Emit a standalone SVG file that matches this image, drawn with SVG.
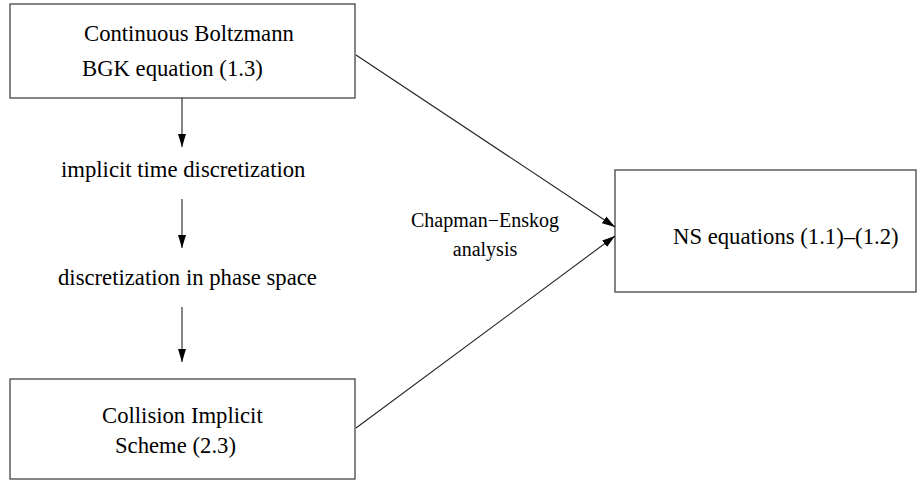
<svg xmlns="http://www.w3.org/2000/svg" width="921" height="481" viewBox="0 0 921 481">
<style>
.box{fill:#fff;stroke:#444;stroke-width:1.3}
text{font-family:'Liberation Serif',serif;fill:#000}
.t{font-size:22.7px}
.s{font-size:20px}
.c{fill:none;stroke:#222;stroke-width:1.1}
</style>
<defs>
<marker id="ah" markerUnits="userSpaceOnUse" markerWidth="14" markerHeight="10" refX="13" refY="4" orient="auto" viewBox="0 0 14 8">
<path d="M0,0 L13,4 L0,8 Z" fill="#000"/>
</marker>
</defs>
<rect width="921" height="481" fill="#fff"/>
<g id="n_boltzmann">
<rect class="box" x="10" y="4" width="345" height="94"/>
<text class="t" x="84" y="41">Continuous Boltzmann</text>
<text class="t" x="82" y="76">BGK equation (1.3)</text>
</g>
<g id="n_implicit_time">
<text class="t" x="61" y="177">implicit time discretization</text>
</g>
<g id="n_phase_space">
<text class="t" x="58" y="285">discretization in phase space</text>
</g>
<g id="n_collision">
<rect class="box" x="10" y="379" width="345" height="100"/>
<text class="t" x="102" y="423">Collision Implicit</text>
<text class="t" x="115" y="453">Scheme (2.3)</text>
</g>
<g id="n_ns">
<rect class="box" x="615" y="170" width="301" height="122"/>
<text class="t" x="673" y="244">NS equations (1.1)–(1.2)</text>
</g>
<g id="n_ce_label">
<text class="s" x="485" y="227" text-anchor="middle">Chapman−Enskog</text>
<text class="s" x="485" y="256" text-anchor="middle">analysis</text>
</g>
<g id="connectors">
<line class="c" x1="182" y1="98" x2="182" y2="147" marker-end="url(#ah)"/>
<line class="c" x1="182" y1="199" x2="182" y2="248" marker-end="url(#ah)"/>
<line class="c" x1="182" y1="307" x2="182" y2="362" marker-end="url(#ah)"/>
<line class="c" x1="356" y1="55" x2="615" y2="227" marker-end="url(#ah)"/>
<line class="c" x1="356" y1="428" x2="615" y2="236" marker-end="url(#ah)"/>
</g>
</svg>
